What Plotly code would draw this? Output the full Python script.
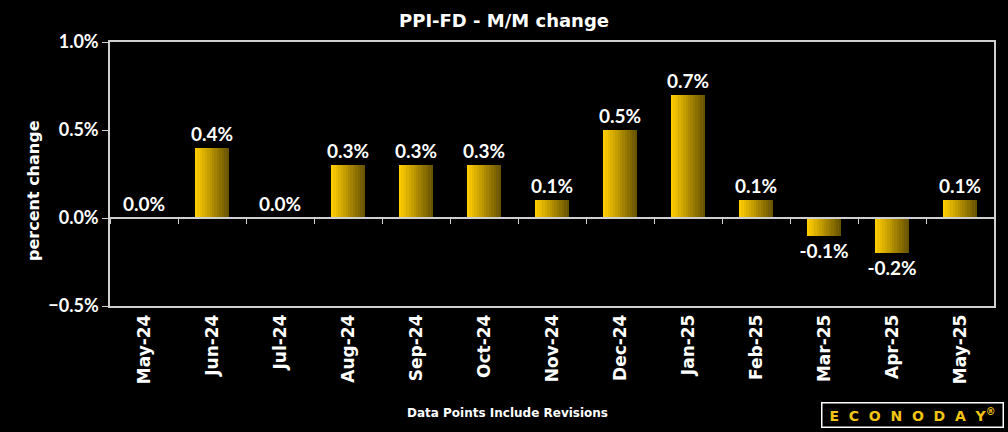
import plotly.graph_objects as go

months = ["May-24", "Jun-24", "Jul-24", "Aug-24", "Sep-24", "Oct-24", "Nov-24",
          "Dec-24", "Jan-25", "Feb-25", "Mar-25", "Apr-25", "May-25"]
mm_change = [0.0, 0.4, 0.0, 0.3, 0.3, 0.3, 0.1, 0.5, 0.7, 0.1, -0.1, -0.2, 0.1]

NUM_FONT = "Lato"
TXT_FONT = "DejaVu Sans"
BAR_W = 0.5
N_SLICES = 14
c_left = (255, 204, 0)
c_right = (104, 84, 0)

fig = go.Figure()

# gradient bars: overlapping slices, each extends to the right edge of the bar
for i in range(N_SLICES):
    t = i / (N_SLICES - 1)
    col = tuple(round(a + (b - a) * t) for a, b in zip(c_left, c_right))
    off = -BAR_W / 2 + i * BAR_W / N_SLICES
    fig.add_trace(go.Bar(
        x=months, y=mm_change,
        width=BAR_W / 2 - off, offset=off,
        marker=dict(color=f"rgb{col}", line=dict(width=0)),
        hoverinfo="skip", showlegend=False,
    ))

# value labels
fig.add_trace(go.Bar(
    x=months, y=mm_change, width=BAR_W, offset=-BAR_W / 2,
    marker=dict(color="rgba(0,0,0,0)", line=dict(width=0)),
    text=[f"{v:.1f}%" for v in mm_change], textposition="outside",
    constraintext="none",
    textfont=dict(family=NUM_FONT, size=19, color="white", weight="bold"),
    cliponaxis=False, showlegend=False, hoverinfo="skip",
))

# helper trace for the zero-line axis with tick marks
fig.add_trace(go.Scatter(x=months, y=mm_change, xaxis="x2", mode="markers",
                         marker=dict(opacity=0), hoverinfo="skip", showlegend=False))

fig.update_layout(
    width=1008, height=432,
    paper_bgcolor="black", plot_bgcolor="black",
    margin=dict(l=110, r=14, t=42, b=126),
    barmode="overlay", bargap=0,
    title=dict(text="<b>PPI-FD - M/M change</b>", x=0.5, xanchor="center",
               y=0.953, yanchor="middle",
               font=dict(family=TXT_FONT, size=18, color="white")),
    xaxis=dict(type="category", categoryarray=months, range=[-0.5, 12.5],
               showline=True, linecolor="#cfcfcf", linewidth=1.5, mirror=True,
               ticks="", tickangle=-90, showgrid=False,
               tickfont=dict(family=TXT_FONT, size=17, color="white", weight="bold")),
    xaxis2=dict(type="category", categoryarray=months, range=[-0.5, 12.5],
                overlaying="x", anchor="free", position=1 / 3,
                showline=True, linecolor="#cfcfcf", linewidth=1.5,
                ticks="outside", ticklen=5, tickcolor="#cfcfcf", tickwidth=1.2,
                tickson="boundaries", showticklabels=False, showgrid=False),
    yaxis=dict(range=[-0.5, 1.0], dtick=0.5, tickformat=".1f", ticksuffix="%",
               showline=True, linecolor="#cfcfcf", linewidth=1.5, mirror=True,
               ticks="outside", ticklen=6, tickcolor="#cfcfcf", showgrid=False,
               zeroline=False,
               tickfont=dict(family=NUM_FONT, size=18, color="white", weight="bold")),
    annotations=[
        dict(text="<b>percent change</b>", textangle=-90, xref="paper", yref="paper",
             x=(33 - 110) / 884, y=(306 - 191) / 264, showarrow=False,
             xanchor="center", yanchor="middle",
             font=dict(family=TXT_FONT, size=16, color="white")),
        dict(text="<b>Data Points Include Revisions</b>", xref="paper", yref="paper",
             x=(507 - 110) / 884, y=-(413 - 306) / 264, showarrow=False,
             xanchor="center", yanchor="middle",
             font=dict(family=TXT_FONT, size=12, color="white")),
        dict(text="E  C  O  N  O  D  A  Y<sup>®</sup>", xref="paper", yref="paper",
             x=(912 - 110) / 884, y=-(414.5 - 306) / 264, showarrow=False,
             xanchor="center", yanchor="middle", width=178, height=21,
             bordercolor="white", borderwidth=1.5, bgcolor="black",
             font=dict(family=TXT_FONT, size=14, color="#f2c513", weight="bold")),
    ],
)

fig.write_html("out.html", config={"displayModeBar": False},
               post_script="document.body.style.margin='0';")
